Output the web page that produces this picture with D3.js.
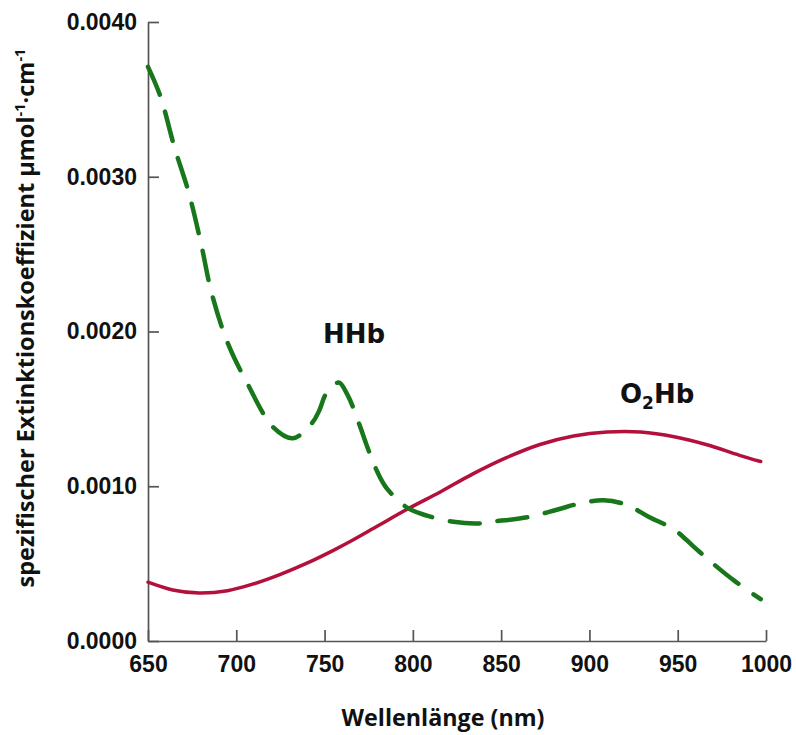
<!DOCTYPE html>
<html>
<head>
<meta charset="utf-8">
<script src="https://cdn.jsdelivr.net/npm/d3@7"></script>
<style>
  html, body { margin: 0; padding: 0; background: #fff; }
  svg { display: block; }
</style>
</head>
<body>
<svg id="chart" width="796" height="735"></svg>
<script>
// Deoxyhemoglobin (HHb) – wavelength in nm and extinction coefficient
const hhbNm  = [650, 657, 665, 673, 680, 686, 695, 706, 721, 732, 743, 747, 751, 758, 763, 770, 774, 780, 785, 797, 808, 823, 838, 844, 865, 882, 895, 908, 921, 934, 948, 959, 970, 982, 997];
const hhbVal = [0.00371, 0.00352, 0.00319, 0.00290, 0.00257, 0.00225, 0.00193, 0.00167, 0.00138, 0.00131, 0.00141, 0.00149, 0.00160, 0.00167, 0.00159, 0.00139, 0.00126, 0.00109, 0.00099, 0.00086, 0.00081, 0.00077, 0.00076, 0.00077, 0.00080, 0.00085, 0.00089, 0.00091, 0.00088, 0.00080, 0.00072, 0.00061, 0.00050, 0.00039, 0.00027];

// Oxyhemoglobin (O2Hb)
const o2hbNm  = [650, 664, 679, 695, 710, 725, 740, 755, 765, 780, 797, 815, 834, 853, 872, 891, 910, 929, 948, 966, 985, 997];
const o2hbVal = [0.00038, 0.00033, 0.00031, 0.000325, 0.00037, 0.000431, 0.000503, 0.000586, 0.000646, 0.000743, 0.000853, 0.00096, 0.00108, 0.001185, 0.00127, 0.001325, 0.00135, 0.00135, 0.00132, 0.00127, 0.00120, 0.00116];

// Axis ticks
const xTicks = [650, 700, 750, 800, 850, 900, 950, 1000];
const yTicks = [0, 0.001, 0.002, 0.003, 0.004];

const svg = d3.select("#chart");
const plotLeft = 148, plotRight = 766, plotTop = 22, plotBottom = 641;

const x = d3.scaleLinear().domain([650, 1000]).range([plotLeft, plotRight]);
const y = d3.scaleLinear().domain([0, 0.004]).range([plotBottom, plotTop]);

const axisColor = "#555";
const tickFont = "'Liberation Sans', Arial, sans-serif";

// Y axis (ticks point inward)
const gy = svg.append("g")
  .attr("transform", `translate(${plotLeft},0)`)
  .call(d3.axisLeft(y).tickValues(yTicks).tickFormat(d3.format(".4f"))
    .tickSizeInner(-11).tickSizeOuter(0).tickPadding(11));

// X axis (ticks point inward)
const gx = svg.append("g")
  .attr("transform", `translate(0,${plotBottom})`)
  .call(d3.axisBottom(x).tickValues(xTicks).tickFormat(d3.format("d"))
    .tickSizeInner(-11).tickSizeOuter(0).tickPadding(15));

[gx, gy].forEach(g => {
  g.select(".domain").attr("stroke", axisColor).attr("stroke-width", 1.7);
  g.selectAll(".tick line").attr("stroke", axisColor).attr("stroke-width", 1.7);
  g.selectAll(".tick text")
    .attr("fill", "#111")
    .style("font-family", tickFont)
    .style("font-weight", "bold")
    .style("font-size", "23px");
});

// Curves
const line = d3.line()
  .x(d => x(d[0]))
  .y(d => y(d[1]))
  .curve(d3.curveCatmullRom.alpha(0.5));

const o2hb = o2hbNm.map((n, i) => [n, o2hbVal[i]]);
const hhb = hhbNm.map((n, i) => [n, hhbVal[i]]);

svg.append("path")
  .datum(o2hb)
  .attr("d", line)
  .attr("fill", "none")
  .attr("stroke", "#b3103b")
  .attr("stroke-width", 3.5)
  .attr("stroke-linecap", "round");

svg.append("path")
  .datum(hhb)
  .attr("d", line)
  .attr("fill", "none")
  .attr("stroke", "#17771a")
  .attr("stroke-width", 4.5)
  .attr("stroke-linecap", "round")
  .attr("stroke-dasharray", "30,18");

// Curve labels
const labelFont = "'DejaVu Sans', sans-serif";
svg.append("text")
  .attr("x", 323).attr("y", 343)
  .attr("fill", "#111")
  .style("font-family", labelFont).style("font-weight", "bold").style("font-size", "26px")
  .text("HHb");

const o2 = svg.append("text")
  .attr("x", 620).attr("y", 403)
  .attr("fill", "#111")
  .style("font-family", labelFont).style("font-weight", "bold").style("font-size", "26px");
o2.append("tspan").text("O");
o2.append("tspan").attr("dy", 6).style("font-size", "17px").text("2");
o2.append("tspan").attr("dy", -6).text("Hb");

// Axis titles
const titleFont = "'Open Sans', 'Noto Sans', sans-serif";

const xt = svg.append("text")
  .attr("x", 443).attr("y", 726)
  .attr("text-anchor", "middle")
  .attr("fill", "#111")
  .style("font-family", titleFont).style("font-weight", "bold").style("font-size", "21px")
  .text("Wellenlänge (nm)");
fitWidth(xt, 203);

const yt = svg.append("text")
  .attr("transform", "translate(34,318) rotate(-90)")
  .attr("text-anchor", "middle")
  .attr("fill", "#111")
  .style("font-family", titleFont).style("font-weight", "bold").style("font-size", "21px");
yt.append("tspan").text("spezifischer Extinktionskoeffizient µmol");
yt.append("tspan").attr("dy", -8).style("font-size", "13px").text("-1");
yt.append("tspan").attr("dy", 8).text("·cm");
yt.append("tspan").attr("dy", -8).style("font-size", "13px").text("-1");
fitWidth(yt, 539);

// Scale a title's font size so it spans the given length
function fitWidth(sel, target) {
  const node = sel.node();
  const w = node.getComputedTextLength();
  if (!w) return;
  const k = target / w;
  sel.style("font-size", (parseFloat(sel.style("font-size")) * k) + "px");
  sel.selectAll("tspan").each(function() {
    const t = d3.select(this);
    const fs = this.style.fontSize;
    if (fs) t.style("font-size", (parseFloat(fs) * k) + "px");
    const dy = t.attr("dy");
    if (dy) t.attr("dy", parseFloat(dy) * k);
  });
}
</script>
</body>
</html>
